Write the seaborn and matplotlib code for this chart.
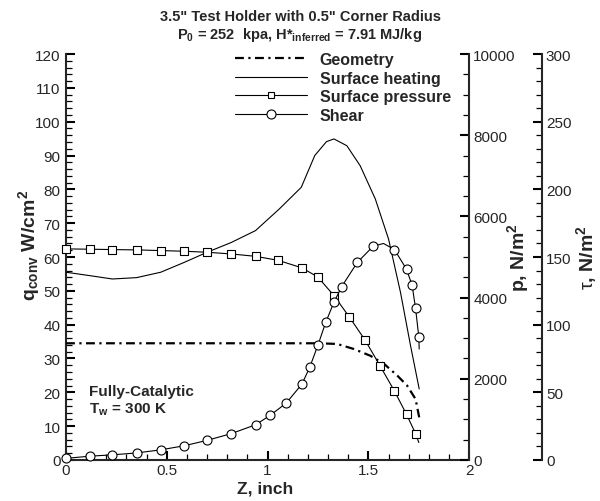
import matplotlib
matplotlib.use("Agg")
import matplotlib.pyplot as plt
from matplotlib.lines import Line2D
from matplotlib.ticker import MultipleLocator
from matplotlib import font_manager
import seaborn as sns
import pandas as pd

# ---------------- data ----------------
geom_z = [0, 1.254, 1.345, 1.428, 1.51, 1.578, 1.644, 1.692, 1.734, 1.752]
geom_q = [34.5, 34.5, 34.3, 32.8, 30.8, 28.4, 24.9, 22.0, 18.0, 12.6]

heat_z = [0, 0.117, 0.23, 0.35, 0.47, 0.586, 0.70, 0.82, 0.94, 1.058, 1.167,
          1.234, 1.292, 1.329, 1.393, 1.459, 1.534, 1.6, 1.659, 1.709, 1.752]
heat_q = [55.5, 54.5, 53.5, 53.9, 55.5, 58.4, 61.4, 64.3, 67.8, 74.2, 80.6,
          90.0, 94.1, 94.9, 92.9, 87.0, 77.2, 65.3, 49.6, 33.8, 21.0]

pres_z = [0, 0.117, 0.23, 0.35, 0.47, 0.586, 0.70, 0.82, 0.94, 1.053, 1.17,
          1.249, 1.329, 1.405, 1.484, 1.557, 1.629, 1.689, 1.734]
pres_p = [5200, 5192, 5183, 5175, 5158, 5142, 5117, 5075, 5017, 4917, 4733,
          4508, 4050, 3525, 2950, 2325, 1700, 1125, 650]
pres_end_z = [1.75]
pres_end_p = [430]

shear_z = [0, 0.117, 0.23, 0.35, 0.47, 0.586, 0.70, 0.82, 0.94, 1.013, 1.092,
           1.17, 1.209, 1.25, 1.289, 1.329, 1.367, 1.445, 1.524, 1.629, 1.689,
           1.717, 1.734, 1.75]
shear_tau = [1.2, 2.8, 3.8, 5.2, 7.5, 10.5, 14.5, 19.5, 26, 33, 42, 56, 68.5,
             85, 102, 116.5, 128, 146, 158, 155.5, 141, 129, 112, 91]
shear_peak_z = [1.575]
shear_peak_tau = [160]
shear_end_z = [1.752]
shear_end_tau = [82]

labels = ["Geometry", "Surface heating", "Surface pressure", "Shear"]
title1 = '3.5" Test Holder with 0.5" Corner Radius'
title2 = r'P$_{0}$ = 252  kpa, H*$_{inferred}$ = 7.91 MJ/kg'

# ---------------- style ----------------
sns.set_theme(style="white")
plt.rcParams["font.family"] = ["Liberation Sans", "DejaVu Sans"]
plt.rcParams["mathtext.fontset"] = "custom"
plt.rcParams["mathtext.rm"] = "Liberation Sans"
plt.rcParams["mathtext.it"] = "Liberation Sans:bold"
plt.rcParams["mathtext.bf"] = "Liberation Sans:bold"
plt.rcParams["mathtext.default"] = "bf"
plt.rcParams["axes.linewidth"] = 1.5

fig = plt.figure(figsize=(6.0, 5.02), dpi=100)
ax = fig.add_axes([0.11, 0.0817, 0.672, 0.8087])
ax2 = ax.twinx()
ax3 = ax.twinx()

df_heat = pd.DataFrame({"z": heat_z, "q": heat_q})
df_geom = pd.DataFrame({"z": geom_z, "q": geom_q})
df_pres_line = pd.DataFrame({"z": pres_z + pres_end_z, "p": pres_p + pres_end_p})
df_pres = pd.DataFrame({"z": pres_z, "p": pres_p})
df_shear_line = pd.DataFrame({"z": shear_z + shear_peak_z + shear_end_z,
                              "tau": shear_tau + shear_peak_tau + shear_end_tau})
df_shear = pd.DataFrame({"z": shear_z, "tau": shear_tau})

sns.lineplot(data=df_geom, x="z", y="q", ax=ax, color="black", lw=1.6,
             dashes=False, linestyle=(0, (4, 2, 1, 2)), zorder=3)
sns.lineplot(data=df_heat, x="z", y="q", ax=ax, color="black", lw=0.8, zorder=3)

sns.lineplot(data=df_pres_line, x="z", y="p", ax=ax2, color="black", lw=0.8, zorder=3)
sns.scatterplot(data=df_pres, x="z", y="p", ax=ax2, marker="s", s=26,
                facecolor="white", edgecolor="black", linewidth=0.8, zorder=4,
                clip_on=False)

sns.lineplot(data=df_shear_line, x="z", y="tau", ax=ax3, color="black", lw=0.8, zorder=3)
sns.scatterplot(data=df_shear, x="z", y="tau", ax=ax3, marker="o", s=42,
                facecolor="white", edgecolor="black", linewidth=0.8, zorder=4,
                clip_on=False)

ax.set_xlim(0, 2)
ax.set_ylim(0, 120)
ax2.set_ylim(0, 10000)
ax3.set_ylim(0, 300)

ax.xaxis.set_major_locator(MultipleLocator(0.5))
ax.xaxis.set_minor_locator(MultipleLocator(0.1))
ax.yaxis.set_major_locator(MultipleLocator(10))
ax.yaxis.set_minor_locator(MultipleLocator(2))
ax2.yaxis.set_major_locator(MultipleLocator(2000))
ax2.yaxis.set_minor_locator(MultipleLocator(500))
ax3.yaxis.set_major_locator(MultipleLocator(50))
ax3.yaxis.set_minor_locator(MultipleLocator(10))

ax.set_xticks([0, 0.5, 1, 1.5, 2])
ax.set_xticklabels(["0", "0.5", "1", "1.5", "2"])

for a in (ax, ax2, ax3):
    a.tick_params(which="major", direction="in", length=6.5, width=1.5,
                  labelsize=11, pad=4, color="black")
    a.tick_params(which="minor", direction="in", length=4.5, width=0.9,
                  color="black")
    a.spines["top"].set_visible(False)
    a.set_xlabel("")
    a.set_ylabel("")

ax.tick_params(axis="x", which="both", bottom=True, top=False, pad=2)
ax.tick_params(axis="y", which="both", left=True, right=False)
ax.spines["right"].set_visible(False)
for a in (ax2, ax3):
    a.spines["left"].set_visible(False)
    a.spines["bottom"].set_visible(False)
    a.tick_params(axis="y", which="both", left=False, right=True, pad=3)
ax3.spines["right"].set_position(("axes", 1.18))
ax2.spines["right"].set_linewidth(1.5)
ax3.spines["right"].set_linewidth(1.5)

# axis labels
ax.set_xlabel("Z, inch", fontsize=12.5, fontweight="bold")
ax.xaxis.set_label_coords(0.495, -0.05)
ax.set_ylabel(r"q$_{conv}$ W/cm$^{2}$", fontsize=14, fontweight="bold")
ax.yaxis.set_label_coords(-0.06, 0.53)
ax2.set_ylabel(r"p, N/m$^{2}$", fontsize=14, fontweight="bold")
ax2.yaxis.set_label_coords(1.09, 0.5)
ax3.set_ylabel(r"$\mathrm{\tau}$, N/m$^{2}$", fontsize=14, fontweight="bold")
ax3.yaxis.set_label_coords(1.26, 0.5)

# titles
fig.text(0.5, 1 - 17 / 502, title1, ha="center", va="center",
         fontsize=10.5, fontweight="bold")
fig.text(0.5, 1 - 35 / 502, title2, ha="center", va="center",
         fontsize=10.5, fontweight="bold")

# annotation
ax.text(0.057, 0.170, "Fully-Catalytic", transform=ax.transAxes,
        fontsize=11, fontweight="bold", va="center", ha="left")
ax.text(0.057, 0.126, r"T$_{w}$ = 300 K", transform=ax.transAxes,
        fontsize=11, fontweight="bold", va="center", ha="left")

# legend
handles = [
    Line2D([], [], color="black", lw=1.6, linestyle=(0, (4, 2, 1, 2))),
    Line2D([], [], color="black", lw=0.8),
    Line2D([], [], color="black", lw=0.8, marker="s", markersize=5,
           markerfacecolor="white", markeredgecolor="black", markeredgewidth=0.8),
    Line2D([], [], color="black", lw=0.8, marker="o", markersize=6.5,
           markerfacecolor="white", markeredgecolor="black", markeredgewidth=0.8),
]
bold_path = font_manager.findfont(
    font_manager.FontProperties(family="Liberation Sans", weight="bold"))
leg_font = font_manager.FontProperties(fname=bold_path, size=11.5)
leg = ax3.legend(handles, labels, loc="upper left",
                 bbox_to_anchor=(235 / 600, 1 - 53 / 502),
                 bbox_transform=fig.transFigure, frameon=False, prop=leg_font,
                 handlelength=4.5, handletextpad=0.8, labelspacing=0.22,
                 borderpad=0, borderaxespad=0)

fig.savefig("out.png", dpi=100)
